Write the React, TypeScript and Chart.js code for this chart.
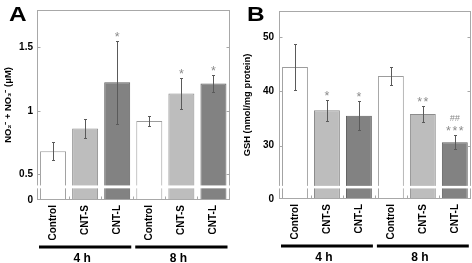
import { useEffect, useRef } from "react";
import { Chart, registerables } from "chart.js";

Chart.register(...registerables);

// ---------- data ----------
const categories = ["Control", "CNT-S", "CNT-L", "Control", "CNT-S", "CNT-L"];
const groupLabels = ["4 h", "8 h"];
const groupStart = [0, 3];
const groupEnd = [2, 5];

// Panel A: NO2- + NO3- (μM)
const noxMeans = [0.68, 0.86, 1.225, 0.92, 1.136, 1.215];
const noxErrors = [0.07, 0.073, 0.33, 0.037, 0.124, 0.07];
const noxMarks: string[][] = [[], [], ["*"], [], ["*"], ["*"]];
const noxTicks = [0.5, 1, 1.5];
const noxAxisMin = 0.296;
const noxAxisMax = 1.796;
const noxBreak = [0.388, 0.411];

// Panel B: GSH (nmol/mg protein)
const gshMeans = [44.5, 36.5, 35.5, 42.8, 35.8, 30.6];
const gshErrors = [4.2, 1.9, 2.7, 1.6, 1.5, 1.3];
const gshMarks: string[][] = [[], ["*"], ["*"], [], ["**"], ["***", "##"]];
const gshTicks = [30, 40, 50];
const gshAxisMin = 20.15;
const gshAxisMax = 54.8;
const gshBreak = [22.1, 22.57];

// ---------- styles ----------
const FONT = "'Liberation Sans', Arial, Helvetica, sans-serif";
const FILLS = ["#ffffff", "#bdbdbd", "#828282", "#ffffff", "#bdbdbd", "#828282"];
const BORDERS = ["#9c9c9c", "#8c8c8c", "#5e5e5e", "#9c9c9c", "#8c8c8c", "#5e5e5e"];
const FRAME = "#a8a8a8";

type PanelCfg = {
  letter: string;
  title: string;
  means: number[];
  errors: number[];
  marks: string[][];
  ticks: number[];
  min: number;
  max: number;
  brk: number[];
  yWidth: number;
  rightPad: number;
  labelPad: number;
  titlePad: number;
  xHeight: number;
  letterX: number;
};

function makePlugin(cfg: PanelCfg) {
  return {
    id: "panelDecor",
    afterDatasetsDraw(chart: any) {
      const { ctx, chartArea: a, scales } = chart;
      const xs = scales.x;
      const ys = scales.y;
      ctx.save();

      // frame
      ctx.strokeStyle = FRAME;
      ctx.lineWidth = 1;
      const L = Math.round(a.left) + 0.5;
      const R = Math.round(a.right) - 0.5;
      const T = Math.round(a.top) + 0.5;
      const B = Math.round(a.bottom) - 0.5;
      ctx.strokeRect(L, T, R - L, B - T);

      // inward y ticks (left and right)
      ctx.beginPath();
      cfg.ticks.forEach((v) => {
        const py = Math.round(ys.getPixelForValue(v)) + 0.5;
        ctx.moveTo(L, py);
        ctx.lineTo(L + 3, py);
        ctx.moveTo(R, py);
        ctx.lineTo(R - 3, py);
      });
      // inward x ticks at category boundaries
      for (let i = 1; i < categories.length; i++) {
        const px = Math.round((xs.getPixelForValue(i - 1) + xs.getPixelForValue(i)) / 2) + 0.5;
        ctx.moveTo(px, B);
        ctx.lineTo(px, B - 3);
      }
      ctx.stroke();

      // error bars and significance marks
      const meta = chart.getDatasetMeta(0);
      meta.data.forEach((bar: any, i: number) => {
        const cx = Math.round(bar.x) + 0.5;
        const yt = Math.round(ys.getPixelForValue(cfg.means[i] + cfg.errors[i])) + 0.5;
        const yb = Math.round(ys.getPixelForValue(cfg.means[i] - cfg.errors[i])) + 0.5;
        ctx.strokeStyle = "#5a5a5a";
        ctx.lineWidth = 1;
        ctx.beginPath();
        ctx.moveTo(cx, yt);
        ctx.lineTo(cx, yb);
        ctx.moveTo(cx - 1.5, yt);
        ctx.lineTo(cx + 1.5, yt);
        ctx.moveTo(cx - 1.5, yb);
        ctx.lineTo(cx + 1.5, yb);
        ctx.stroke();

        let center = yt - 6.6;
        cfg.marks[i].forEach((m) => {
          const hash = m.includes("#");
          ctx.font = hash ? `italic 9px ${FONT}` : `12.5px ${FONT}`;
          (ctx as any).letterSpacing = hash ? "0px" : "1.5px";
          ctx.textAlign = "center";
          ctx.textBaseline = "alphabetic";
          ctx.fillStyle = "#8a8a8a";
          const mt = ctx.measureText(m);
          const yy = center - (mt.actualBoundingBoxDescent - mt.actualBoundingBoxAscent) / 2;
          ctx.fillText(m, bar.x + (hash ? 0 : 0.75), yy);
          center -= 10.6;
        });
      });
      (ctx as any).letterSpacing = "0px";

      // axis break band
      const yHi = ys.getPixelForValue(cfg.brk[1]);
      const yLo = ys.getPixelForValue(cfg.brk[0]);
      ctx.fillStyle = "#ffffff";
      ctx.fillRect(a.left - 4, yHi, a.right - a.left + 8, yLo - yHi);

      // group bars and labels
      const half = (xs.getPixelForValue(1) - xs.getPixelForValue(0)) / 2;
      groupLabels.forEach((g, k) => {
        const xl = xs.getPixelForValue(groupStart[k]) - half + 2;
        const xr = xs.getPixelForValue(groupEnd[k]) + half - 2;
        ctx.fillStyle = "#000";
        ctx.fillRect(xl, a.bottom + 45.5, xr - xl, 3);
        ctx.font = `bold 12px ${FONT}`;
        ctx.textAlign = "center";
        ctx.textBaseline = "middle";
        ctx.fillText(g, (xl + xr) / 2 - 3, a.bottom + 58.5);
      });

      // panel letter
      ctx.save();
      ctx.translate(cfg.letterX, 21);
      ctx.scale(1.22, 1);
      ctx.font = `bold 20px ${FONT}`;
      ctx.textAlign = "left";
      ctx.textBaseline = "alphabetic";
      ctx.fillStyle = "#000";
      ctx.fillText(cfg.letter, 0, 0);
      ctx.restore();

      ctx.restore();
    },
  };
}

function Panel({ cfg, left }: { cfg: PanelCfg; left: number }) {
  const ref = useRef<HTMLCanvasElement | null>(null);
  useEffect(() => {
    if (!ref.current) return;
    const chart = new Chart(ref.current, {
      type: "bar",
      data: {
        labels: categories,
        datasets: [
          {
            data: cfg.means,
            backgroundColor: FILLS,
            borderColor: BORDERS,
            borderWidth: 1,
            barPercentage: 0.81,
            categoryPercentage: 1,
          },
        ],
      },
      options: {
        responsive: false,
        animation: false,
        events: [],
        layout: { padding: { left: 0, top: 9, right: cfg.rightPad, bottom: 0 } },
        plugins: { legend: { display: false }, tooltip: { enabled: false } },
        scales: {
          x: {
            grid: { display: false, drawTicks: false },
            border: { display: false },
            ticks: {
              autoSkip: false,
              maxRotation: 90,
              minRotation: 90,
              padding: 5,
              color: "#000",
              font: { family: FONT, size: 10, weight: "bold" },
            },
            afterFit: (s: any) => {
              s.height = cfg.xHeight;
            },
          },
          y: {
            type: "linear",
            min: cfg.min,
            max: cfg.max,
            grid: { display: false, drawTicks: false },
            border: { display: false },
            afterBuildTicks: (s: any) => {
              s.ticks = [cfg.min, ...cfg.ticks].map((v) => ({ value: v }));
            },
            ticks: {
              padding: cfg.labelPad,
              color: "#000",
              font: { family: FONT, size: 10, weight: "bold" },
              callback: (v: any) => (v === cfg.min ? "0" : String(v)),
            },
            title: {
              display: true,
              text: cfg.title,
              color: "#000",
              font: { family: FONT, size: 9.4, weight: "bold" },
              padding: { top: cfg.titlePad, bottom: 0 },
            },
            afterFit: (s: any) => {
              s.width = cfg.yWidth;
            },
          },
        },
      } as any,
      plugins: [makePlugin(cfg)],
    });
    return () => chart.destroy();
  }, [cfg]);
  return (
    <canvas
      ref={ref}
      width={236}
      height={263}
      style={{ position: "absolute", left, top: 0, width: 236, height: 263, display: "block" }}
    />
  );
}

const panelA: PanelCfg = {
  letter: "A",
  title: "NO₂⁻ + NO₃⁻ (μM)",
  means: noxMeans,
  errors: noxErrors,
  marks: noxMarks,
  ticks: noxTicks,
  min: noxAxisMin,
  max: noxAxisMax,
  brk: noxBreak,
  yWidth: 37,
  rightPad: 6.5,
  labelPad: 4,
  titlePad: 3,
  xHeight: 63,
  letterX: 9,
};

const panelB: PanelCfg = {
  letter: "B",
  title: "GSH (nmol/mg protein)",
  means: gshMeans,
  errors: gshErrors,
  marks: gshMarks,
  ticks: gshTicks,
  min: gshAxisMin,
  max: gshAxisMax,
  brk: gshBreak,
  yWidth: 43,
  rightPad: 1.2,
  labelPad: 5,
  titlePad: 6,
  xHeight: 64,
  letterX: 11,
};

export default function App() {
  return (
    <div style={{ position: "absolute", left: 0, top: 0, width: 472, height: 263, background: "#fff" }}>
      <Panel cfg={panelA} left={0} />
      <Panel cfg={panelB} left={236} />
    </div>
  );
}
